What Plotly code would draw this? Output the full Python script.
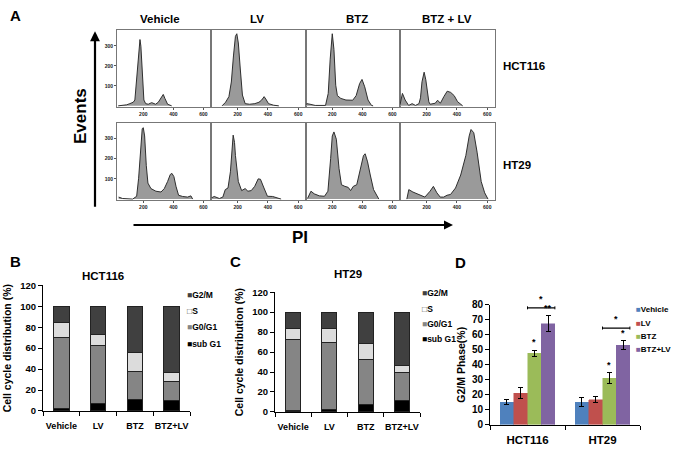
import plotly.graph_objects as go

W, H = 675, 452
FONT = "Liberation Sans"

# ---------------- Panel A : DNA-content histograms ----------------
col_titles = ["Vehicle", "LV", "BTZ", "BTZ + LV"]
row_titles = ["HCT116", "HT29"]
hist_xticks = [200, 400, 600]
hist_yticks = [100, 200, 300]

hct_vehicle_x = [33, 89, 111, 133, 144, 156, 167, 178, 184, 193, 204, 216, 233, 256, 267, 282, 300, 322, 333, 344, 362, 389]
hct_vehicle_y = [0, 5, 11, 18, 29, 152, 266, 331, 298, 152, 29, 11, 8, 16, 11, 8, 18, 46, 57, 37, 8, 0]

hct_lv_x = [98, 121, 143, 159, 173, 186, 195, 205, 218, 232, 250, 279, 314, 341, 359, 375, 386, 404, 438, 472]
hct_lv_y = [0, 18, 46, 119, 249, 347, 360, 314, 184, 54, 11, 8, 11, 18, 29, 46, 34, 11, 3, 0]

hct_btz_x = [25, 30, 52, 86, 155, 173, 186, 200, 211, 223, 234, 257, 291, 336, 359, 382, 398, 416, 438, 461, 472]
hct_btz_y = [5, 11, 8, 2, 2, 62, 233, 360, 282, 103, 51, 37, 29, 28, 51, 111, 132, 95, 29, 2, 0]

hct_btzlv_x = [25, 41, 59, 82, 105, 127, 150, 160, 170, 184, 195, 205, 215, 223, 257, 273, 291, 314, 336, 359, 382, 404, 438]
hct_btzlv_y = [5, 62, 29, 2, 11, 2, 11, 40, 120, 168, 130, 60, 20, 8, 13, 28, 13, 46, 73, 67, 51, 21, 0]

ht_vehicle_x = [36, 62, 129, 156, 169, 182, 193, 200, 209, 220, 231, 251, 284, 318, 340, 362, 380, 391, 404, 418, 435, 462, 495, 517, 529]
ht_vehicle_y = [10, 3, 0, 14, 103, 264, 348, 353, 312, 167, 79, 52, 39, 35, 52, 87, 122, 127, 111, 63, 19, 13, 10, 16, 0]

ht_lv_x = [28, 46, 80, 103, 119, 137, 153, 164, 171, 180, 186, 205, 227, 250, 268, 290, 313, 336, 351, 374, 397, 431, 464, 487]
ht_lv_y = [6, 13, 3, 10, 47, 55, 135, 264, 316, 280, 216, 87, 42, 52, 39, 42, 63, 100, 98, 55, 14, 13, 6, 0]

ht_btz_x = [35, 58, 80, 114, 148, 171, 189, 200, 211, 227, 245, 261, 284, 306, 322, 340, 363, 390, 408, 419, 435, 453, 475, 510]
ht_btz_y = [3, 39, 26, 16, 14, 39, 200, 312, 332, 296, 151, 71, 63, 58, 42, 63, 71, 151, 216, 224, 184, 119, 47, 0]

ht_btzlv_x = [70, 83, 110, 144, 189, 223, 245, 268, 290, 313, 335, 358, 391, 425, 459, 481, 493, 511, 533, 560, 583, 605]
ht_btzlv_y = [0, 47, 35, 23, 10, 39, 63, 31, 10, 10, 19, 23, 55, 119, 216, 312, 344, 328, 232, 87, 31, 0]

hist_series = [
    (hct_vehicle_x, hct_vehicle_y), (hct_lv_x, hct_lv_y), (hct_btz_x, hct_btz_y), (hct_btzlv_x, hct_btzlv_y),
    (ht_vehicle_x, ht_vehicle_y), (ht_lv_x, ht_lv_y), (ht_btz_x, ht_btz_y), (ht_btzlv_x, ht_btzlv_y),
]

# ---------------- Panels B / C : cell cycle distribution ----------------
cc_categories = ["Vehicle", "LV", "BTZ", "BTZ+LV"]
phases = ["sub G1", "G0/G1", "S", "G2/M"]
phase_colors = ["#000000", "#858585", "#dcdcdc", "#404040"]
hct116_subg1 = [2.2, 7.2, 10.9, 10.0]
hct116_g0g1 = [67.8, 55.8, 26.4, 18.0]
hct116_s = [15.0, 9.8, 18.1, 8.4]
hct116_g2m = [15.0, 27.2, 44.6, 63.6]
ht29_subg1 = [1.0, 2.0, 7.0, 11.0]
ht29_g0g1 = [72.0, 68.0, 46.0, 29.0]
ht29_s = [11.0, 14.0, 16.0, 7.0]
ht29_g2m = [16.0, 16.0, 31.0, 53.0]

# ---------------- Panel D : G2/M phase ----------------
g2m_groups = ["HCT116", "HT29"]
treatments = ["Vehicle", "LV", "BTZ", "BTZ+LV"]
treat_colors = ["#4F81BD", "#C0504D", "#9BBB59", "#8064A2"]
g2m_vehicle = [15.0, 15.0]
g2m_lv = [21.0, 16.7]
g2m_btz = [47.8, 30.9]
g2m_btzlv = [67.3, 53.0]
err_vehicle = [1.8, 2.8]
err_lv = [3.5, 2.2]
err_btz = [2.0, 3.7]
err_btzlv = [5.3, 2.9]
stars_btz = ["*", "*"]
stars_btzlv = ["**", "*"]
bracket_y = [78, 64.5]

fig = go.Figure()


def px2x(px):
    return px / W


def px2y(py):
    return 1 - py / H


def bold(size, color="#000"):
    return dict(family=FONT, size=size, color=color, weight="bold")


# ---- Panel A layout ----
col_edges = [117, 211, 306, 400, 495]
row_frames = [(25, 104), (120, 199)]
row_ranges = [[-7, 377], [-3, 377]]
hist_xrange = [25, 651]

for i, (hx, hy) in enumerate(hist_series):
    r, c = divmod(i, 4)
    n = i + 1
    fig.add_trace(go.Scatter(
        x=hx, y=hy, mode="lines", fill="tozeroy",
        fillcolor="#9a9a9a", line=dict(color="#2e2e2e", width=1),
        xaxis=f"x{n}", yaxis=f"y{n}", showlegend=False, hoverinfo="skip"))
    top, bot = row_frames[r]
    fig.layout[f"xaxis{n}"] = dict(
        domain=[px2x(col_edges[c]), px2x(col_edges[c + 1])], anchor=f"y{n}",
        range=hist_xrange, tickvals=hist_xticks, ticks="outside", ticklen=2,
        tickcolor="#555", tickfont=bold(5, "#222"), showgrid=False, zeroline=False,
        showline=True, mirror=True, linecolor="#777", linewidth=1)
    fig.layout[f"yaxis{n}"] = dict(
        domain=[px2y(bot), px2y(top)], anchor=f"x{n}", range=row_ranges[r],
        tickvals=hist_yticks if c == 0 else [], ticks="outside" if c == 0 else "",
        ticklen=2, tickcolor="#555", tickfont=bold(5, "#222"),
        showgrid=False, zeroline=False, showline=True, mirror=True,
        linecolor="#777", linewidth=1)

# ---- Panels B & C ----
cc_sets = [
    (9, [hct116_subg1, hct116_g0g1, hct116_s, hct116_g2m], (43, 190), (287, 416)),
    (10, [ht29_subg1, ht29_g0g1, ht29_s, ht29_g2m], (275, 420), (294, 417)),
]
for n, vals, (xl, xr), (yt, yb) in cc_sets:
    for ph, v, col in zip(phases, vals, phase_colors):
        fig.add_trace(go.Bar(
            x=cc_categories, y=v, name=ph, marker=dict(color=col, line=dict(color="#222", width=1)),
            xaxis=f"x{n}", yaxis=f"y{n}", showlegend=False, hoverinfo="skip"))
    fig.layout[f"xaxis{n}"] = dict(
        domain=[px2x(xl), px2x(xr)], anchor=f"y{n}", type="category",
        ticks="outside", tickson="boundaries", ticklen=4, tickcolor="#000", tickangle=0,
        ticklabelstandoff=6,
        tickfont=bold(9), showline=True, linecolor="#000", linewidth=1, showgrid=False)
    fig.layout[f"yaxis{n}"] = dict(
        domain=[px2y(yb), px2y(yt)], anchor=f"x{n}", range=[0, 120], dtick=20,
        ticks="outside", ticklen=4, tickcolor="#000", tickfont=bold(9.5),
        showline=True, linecolor="#000", linewidth=1, showgrid=False, zeroline=False,
        title=dict(text="Cell cycle distribution (%)", font=bold(10.5), standoff=6))

fig.update_layout(barmode="stack", bargap=0.58)

# ---- Panel D (side-by-side bars via separate offset groups) ----
d_vals = [g2m_vehicle, g2m_lv, g2m_btz, g2m_btzlv]
d_errs = [err_vehicle, err_lv, err_btz, err_btzlv]
group_gap = 0.27
bw = (1 - group_gap) / 4
for j, (t, v, e, col) in enumerate(zip(treatments, d_vals, d_errs, treat_colors)):
    fig.add_trace(go.Bar(
        x=g2m_groups, y=v, name=t, offsetgroup=f"d{j}", width=bw,
        offset=-(1 - group_gap) / 2 + bw * j,
        marker=dict(color=col, line=dict(color=col, width=0.5)),
        error_y=dict(type="data", array=e, color="#000", thickness=1, width=2.5),
        xaxis="x11", yaxis="y11", showlegend=False, hoverinfo="skip"))

fig.layout["xaxis11"] = dict(
    domain=[px2x(490), px2x(640)], anchor="y11", type="category",
    ticks="outside", tickson="boundaries", ticklen=4, tickcolor="#000", tickangle=0,
    ticklabelstandoff=5,
    tickfont=bold(11.5), showline=True, linecolor="#000", linewidth=1, showgrid=False)
fig.layout["yaxis11"] = dict(
    domain=[px2y(430), px2y(307)], anchor="x11", range=[0, 80], dtick=10,
    ticks="outside", ticklen=4, tickcolor="#000", tickfont=bold(10),
    showline=True, linecolor="#000", linewidth=1, showgrid=False, zeroline=False,
    title=dict(text="G2/M Phase(%)", font=bold(10.5), standoff=4))


def d_center(gi, j):
    return gi - (1 - group_gap) / 2 + bw * (j + 0.5)


annotations = []
shapes = []
for gi in range(2):
    for j, star in ((2, stars_btz[gi]), (3, stars_btzlv[gi])):
        annotations.append(dict(
            x=d_center(gi, j), y=d_vals[j][gi] + d_errs[j][gi] + 0.5, xref="x11", yref="y11",
            text=star, showarrow=False, yanchor="bottom", font=bold(9)))
    x0 = d_center(gi, 2) - bw / 2
    x1 = d_center(gi, 3) + bw / 2
    by = bracket_y[gi]
    shapes.append(dict(type="line", xref="x11", yref="y11", x0=x0, x1=x1, y0=by, y1=by,
                       line=dict(color="#000", width=1.3)))
    for xe in (x0, x1):
        shapes.append(dict(type="line", xref="x11", yref="y11", x0=xe, x1=xe, y0=by - 1, y1=by + 1,
                           line=dict(color="#000", width=1)))
    annotations.append(dict(x=(x0 + x1) / 2, y=by + 1.5, xref="x11", yref="y11", text="*",
                            showarrow=False, yanchor="bottom", font=bold(9)))


def ann(text, px, py, size, xanchor="center", yanchor="middle", angle=0, color="#000"):
    annotations.append(dict(x=px2x(px), y=px2y(py), xref="paper", yref="paper", text=text,
                            showarrow=False, xanchor=xanchor, yanchor=yanchor, textangle=angle,
                            font=bold(size, color)))


# Panel letters
ann("A", 8, 10, 15, xanchor="left")
ann("B", 8, 262, 15, xanchor="left")
ann("C", 228, 262, 15, xanchor="left")
ann("D", 453, 263, 15, xanchor="left")

# Panel A titles
for t, cx in zip(col_titles, [160, 257, 357, 447]):
    ann(t, cx, 13, 11.5)
for t, cy in zip(row_titles, [62, 163]):
    ann(t, 501, cy, 11.5, xanchor="left")
ann("Events", 80, 113, 17, angle=-90)
ann("PI", 300, 238, 17)

# axis arrows for panel A
annotations.append(dict(x=px2x(95), y=px2y(26), xref="paper", yref="paper", text="",
                        showarrow=True, ax=0, ay=177, axref="pixel", ayref="pixel",
                        arrowhead=2, arrowsize=0.9, arrowwidth=2.2, arrowcolor="#000"))
annotations.append(dict(x=px2x(453), y=px2y(225), xref="paper", yref="paper", text="",
                        showarrow=True, ax=-321, ay=0, axref="pixel", ayref="pixel",
                        arrowhead=2, arrowsize=0.9, arrowwidth=2, arrowcolor="#000"))

# Panel titles B / C
ann("HCT116", 103, 277, 11.5)
ann("HT29", 348, 275, 11.5)

# Legends B, C (text with square glyph swatches)
leg_b_y = [297, 313, 330, 347]
leg_c_y = [295, 311, 327, 342]
for (lx, ly_list) in ((185, leg_b_y), (420, leg_c_y)):
    for ph, col, ly in zip(phases[::-1], phase_colors[::-1], ly_list):
        glyph = "□" if ph == "S" else "■"
        gcol = "#444" if ph == "S" else col
        ann(f'<span style="color:{gcol}">{glyph}</span>{ph}', lx, ly, 8.5, xanchor="left")

# Legend D
leg_d_y = [312, 326, 339, 353]
for t, col, ly in zip(treatments, treat_colors, leg_d_y):
    ann(f'<span style="color:{col}">■</span>{t}', 634, ly, 8, xanchor="left")

fig.update_layout(
    width=W, height=H, margin=dict(l=0, r=0, t=0, b=0),
    paper_bgcolor="white", plot_bgcolor="white",
    font=dict(family=FONT, color="#000"),
    annotations=annotations, shapes=shapes, showlegend=False)

fig.write_html("out.html", config={"displayModeBar": False},
               post_script="document.body.style.margin='0';document.body.style.padding='0';")
